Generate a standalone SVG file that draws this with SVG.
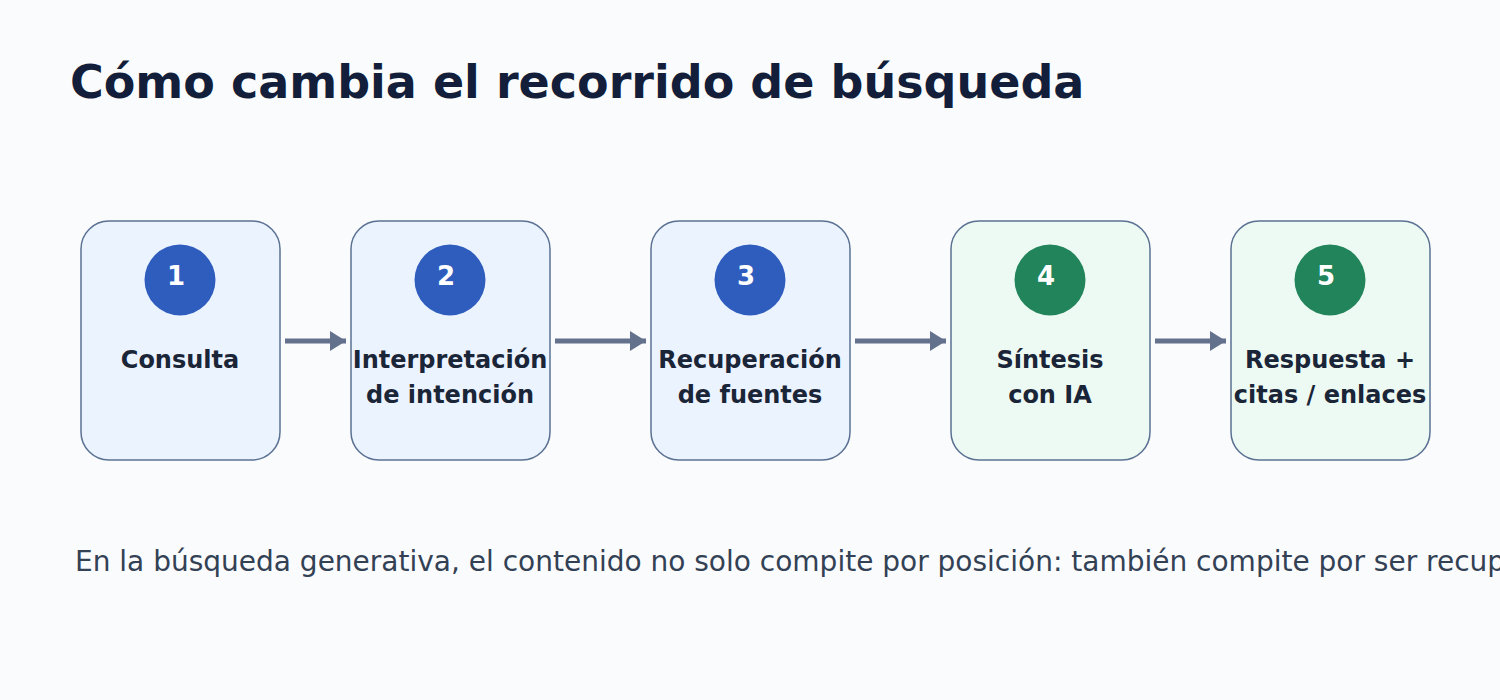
<svg xmlns="http://www.w3.org/2000/svg" width="1500" height="700" viewBox="0 0 1500 700">
<defs>
<style>
.box{stroke:#5b7192;stroke-width:1.5}
.blue{fill:#ebf3ff}
.green{fill:#edfaf3}
.cb{fill:#2f5dbe}
.cg{fill:#21845b}
.num{font-family:"DejaVu Sans",sans-serif;font-weight:bold;font-size:26px;fill:#ffffff;text-anchor:middle}
.lbl{font-family:"DejaVu Sans",sans-serif;font-weight:bold;font-size:24px;fill:#1b2538;text-anchor:middle}
.conn line{stroke:#64718c;stroke-width:5}
</style>
<marker id="ah" viewBox="0 0 10 10" refX="10" refY="5" markerWidth="16" markerHeight="20" markerUnits="userSpaceOnUse" orient="auto" preserveAspectRatio="none">
<path d="M0,0 L10,5 L0,10 Z" fill="#64718c"/>
</marker>
</defs>
<rect width="1500" height="700" fill="#fafbfd"/>
<text x="70" y="98" font-family="DejaVu Sans,sans-serif" font-weight="bold" font-size="46" fill="#131f3a">Cómo cambia el recorrido de búsqueda</text>
<g id="n1"><rect class="box blue" x="81" y="221" width="199" height="239" rx="28"/><circle class="cb" cx="180" cy="280" r="35.5"/><text class="num" x="176" y="285">1</text><text class="lbl" x="180" y="368">Consulta</text></g>
<g id="n2"><rect class="box blue" x="351" y="221" width="199" height="239" rx="28"/><circle class="cb" cx="450" cy="280" r="35.5"/><text class="num" x="446" y="285">2</text><text class="lbl" x="450" y="368">Interpretación</text><text class="lbl" x="450" y="403">de intención</text></g>
<g id="n3"><rect class="box blue" x="651" y="221" width="199" height="239" rx="28"/><circle class="cb" cx="750" cy="280" r="35.5"/><text class="num" x="746" y="285">3</text><text class="lbl" x="750" y="368">Recuperación</text><text class="lbl" x="750" y="403">de fuentes</text></g>
<g id="n4"><rect class="box green" x="951" y="221" width="199" height="239" rx="28"/><circle class="cg" cx="1050" cy="280" r="35.5"/><text class="num" x="1046" y="285">4</text><text class="lbl" x="1050" y="368">Síntesis</text><text class="lbl" x="1050" y="403">con IA</text></g>
<g id="n5"><rect class="box green" x="1231" y="221" width="199" height="239" rx="28"/><circle class="cg" cx="1330" cy="280" r="35.5"/><text class="num" x="1326" y="285">5</text><text class="lbl" x="1330" y="368">Respuesta +</text><text class="lbl" x="1330" y="403">citas / enlaces</text></g>
<g id="connectors" class="conn">
<line x1="285" y1="341" x2="346" y2="341" marker-end="url(#ah)"/>
<line x1="555" y1="341" x2="646" y2="341" marker-end="url(#ah)"/>
<line x1="855" y1="341" x2="946" y2="341" marker-end="url(#ah)"/>
<line x1="1155" y1="341" x2="1226" y2="341" marker-end="url(#ah)"/>
</g>
<text x="75" y="571" font-family="DejaVu Sans,sans-serif" font-size="28" fill="#334155">En la búsqueda generativa, el contenido no solo compite por posición: también compite por ser recup</text>
</svg>
